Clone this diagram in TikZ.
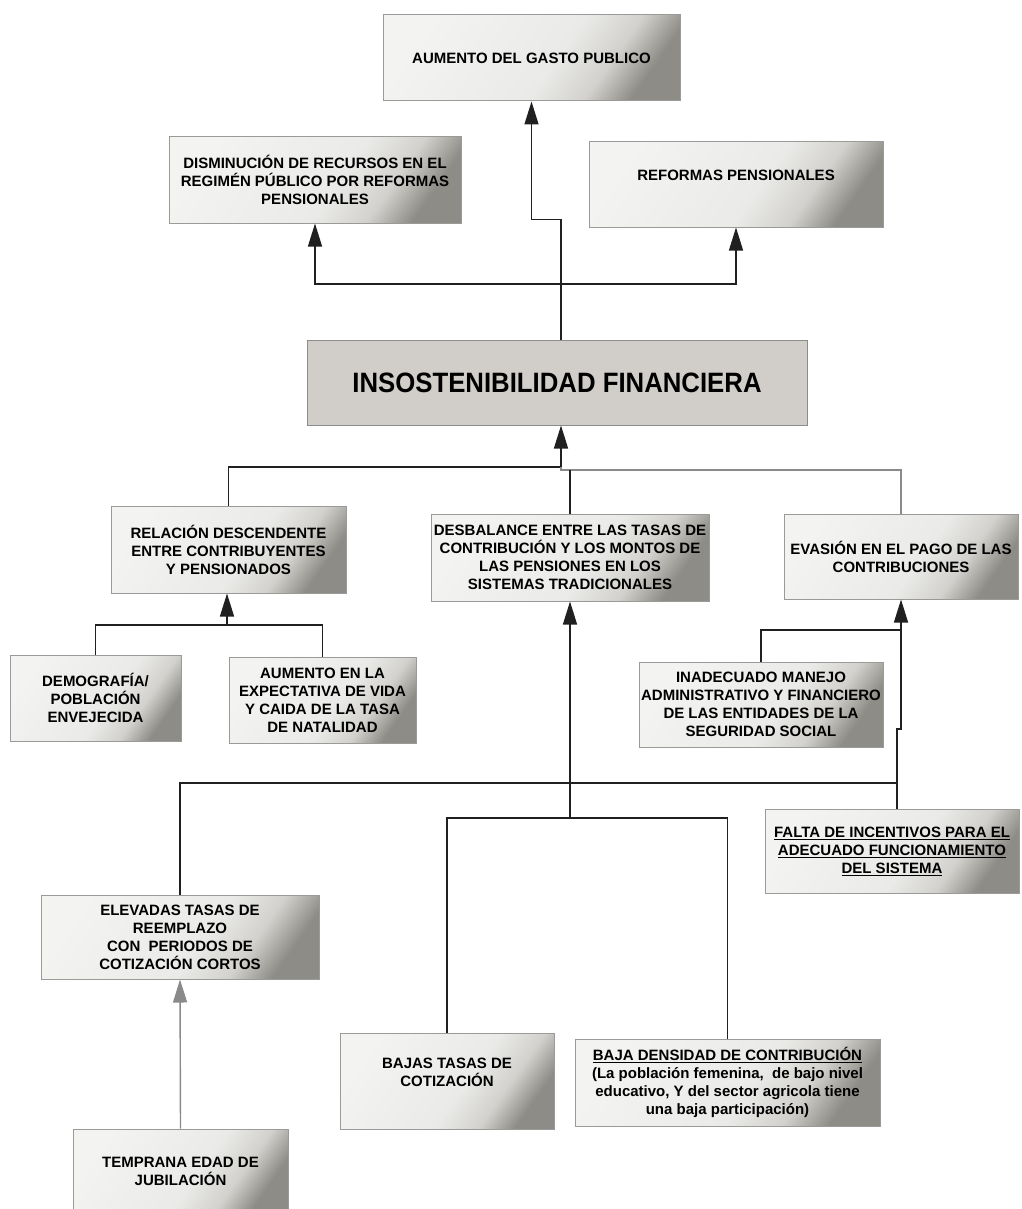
\documentclass[tikz,border=0pt]{standalone}
\usepackage{fontspec}
\setmainfont{Liberation Sans}
\newfontfamily\bigfont{Liberation Sans}[FakeStretch=0.92]
\usetikzlibrary{arrows.meta}
\definecolor{boxlight}{HTML}{F3F3F2}
\definecolor{boxlighttwo}{HTML}{EAEAE8}
\definecolor{boxmid}{HTML}{D2D1CD}
\definecolor{boxdark}{HTML}{8E8C86}
\definecolor{boxline}{HTML}{9A9A98}
\definecolor{mainfill}{HTML}{D1CEC9}
\definecolor{mainline}{HTML}{8C8C8C}
\definecolor{conn}{HTML}{202020}
\definecolor{connlight}{HTML}{8A8A8A}
\pgfdeclarehorizontalshading{boxshade}{100bp}{color(0bp)=(boxlight); color(25bp)=(boxlight); color(55bp)=(boxlighttwo); color(66bp)=(boxmid); color(75bp)=(boxdark); color(100bp)=(boxdark)}
\begin{document}
\begin{tikzpicture}[x=1pt,y=-1pt,
  box/.style={draw=boxline, line width=1pt, shade, shading=boxshade, shading angle=-35, align=center, inner sep=0pt, font=\fontsize{15}{18}\selectfont\bfseries},
  mainbox/.style={draw=mainline, line width=1pt, fill=mainfill, inner sep=0pt, font=\bigfont\fontsize{28}{32}\selectfont\bfseries},
  link/.style={draw=conn, line width=1.4pt},
  linklight/.style={draw=connlight, line width=1.4pt},
  arrowlink/.style={link, -{Triangle[width=14pt,length=23pt]}},
]
\useasboundingbox (0,0) rectangle (1021,1209);
\fill[white] (0,0) rectangle (1021,1209);

% boxes
\node[box, minimum width=297pt, minimum height=86pt] (gasto) at (531.5,58) {AUMENTO DEL GASTO PUBLICO};
\node[box, minimum width=292pt, minimum height=86pt] (dism) at (315,180) {DISMINUCIÓN DE RECURSOS EN EL\\REGIMÉN PÚBLICO POR REFORMAS\\PENSIONALES};
\node[box, minimum width=294pt, minimum height=85pt] (reform) at (736,184.5) {REFORMAS PENSIONALES\\\mbox{}};
\node[mainbox, minimum width=500pt, minimum height=85pt] (insost) at (557,382.5) {INSOSTENIBILIDAD FINANCIERA};
\node[box, minimum width=235pt, minimum height=87pt] (relac) at (228.5,549.5) {RELACIÓN DESCENDENTE\\ENTRE CONTRIBUYENTES\\Y PENSIONADOS};
\node[box, minimum width=278pt, minimum height=87pt] (desbal) at (570,557.5) {DESBALANCE ENTRE LAS TASAS DE\\CONTRIBUCIÓN Y LOS MONTOS DE\\LAS PENSIONES EN LOS\\SISTEMAS TRADICIONALES};
\node[box, minimum width=234pt, minimum height=85pt] (evasion) at (901,556.5) {EVASIÓN EN EL PAGO DE LAS\\CONTRIBUCIONES};
\node[box, minimum width=171pt, minimum height=86pt] (demog) at (95.5,698) {DEMOGRAFÍA/\\POBLACIÓN\\ENVEJECIDA};
\node[box, minimum width=187pt, minimum height=86pt] (expect) at (322.5,700) {AUMENTO EN LA\\EXPECTATIVA DE VIDA\\Y CAIDA DE LA TASA\\DE NATALIDAD};
\node[box, minimum width=244pt, minimum height=85pt] (inadec) at (761,704.5) {INADECUADO MANEJO\\ADMINISTRATIVO Y FINANCIERO\\DE LAS ENTIDADES DE LA\\SEGURIDAD SOCIAL};
\node[box, minimum width=254pt, minimum height=84pt] (falta) at (892,851) {\underline{FALTA DE INCENTIVOS PARA EL}\\\underline{ADECUADO FUNCIONAMIENTO}\\\underline{DEL SISTEMA}};
\node[box, minimum width=278pt, minimum height=84pt] (elev) at (180,937) {ELEVADAS TASAS DE\\REEMPLAZO\\CON\ \ PERIODOS DE\\COTIZACIÓN CORTOS};
\node[box, minimum width=214pt, minimum height=96pt] (bajas) at (447,1081) {BAJAS TASAS DE\\COTIZACIÓN\\\mbox{}};
\node[box, minimum width=305pt, minimum height=87pt] (bdens) at (727.5,1082.5) {\underline{BAJA DENSIDAD DE CONTRIBUCIÓN}\\(La población femenina,\ \ de bajo nivel\\educativo, Y del sector agricola tiene\\una baja participación)};
\node[box, minimum width=215pt, minimum height=84pt] (tempr) at (180.5,1171) {TEMPRANA EDAD DE\\JUBILACIÓN};

% junction points
\coordinate (upsplit) at ([xshift=4pt]insost.north |- 0,284);
\coordinate (lowsplit) at ([xshift=4pt]insost.south |- 0,467);
\coordinate (relsplit) at ([xshift=-1.5pt]relac.south |- 0,625);
\coordinate (dessplit) at (desbal.south |- 0,818);
\coordinate (evasplit) at (evasion.south |- 0,630);
\coordinate (jog) at ([xshift=5pt]falta.north |- 0,729);
\coordinate (elevsplit) at ([xshift=5pt]falta.north |- 0,783);

% top connectors
\draw[arrowlink] ([xshift=4pt]insost.north) -- ++(0,-120) -| (gasto.south);
\draw[arrowlink] (upsplit) -| (dism.south);
\draw[arrowlink] (upsplit) -| (reform.south);

% to insostenibilidad
\draw[arrowlink] (lowsplit) -- ([xshift=4pt]insost.south);
\draw[link] (relac.north) |- (lowsplit);
\draw[linklight] (lowsplit) -- ++(0,3) -| (evasion.north);
\draw[link] (desbal.north) -- (desbal.north |- 0,470);

% to relacion
\draw[arrowlink] (relsplit) -- ([xshift=-1.5pt]relac.south);
\draw[link] (demog.north) |- (relsplit) -| (expect.north);

% to desbalance
\draw[arrowlink] (dessplit) -- (desbal.south);
\draw[link] (bajas.north) |- (dessplit) -| (bdens.north);

% to evasion
\draw[arrowlink] (evasplit) -- (evasion.south);
\draw[link] (inadec.north) |- (evasplit);
\draw[link] (evasplit) -- (evasplit |- jog) -- (jog) -- ([xshift=5pt]falta.north);
\draw[link] (elev.north) |- (elevsplit);

% to elevadas
\draw[arrowlink, draw=connlight] (tempr.north) -- (elev.south);
\end{tikzpicture}
\end{document}
